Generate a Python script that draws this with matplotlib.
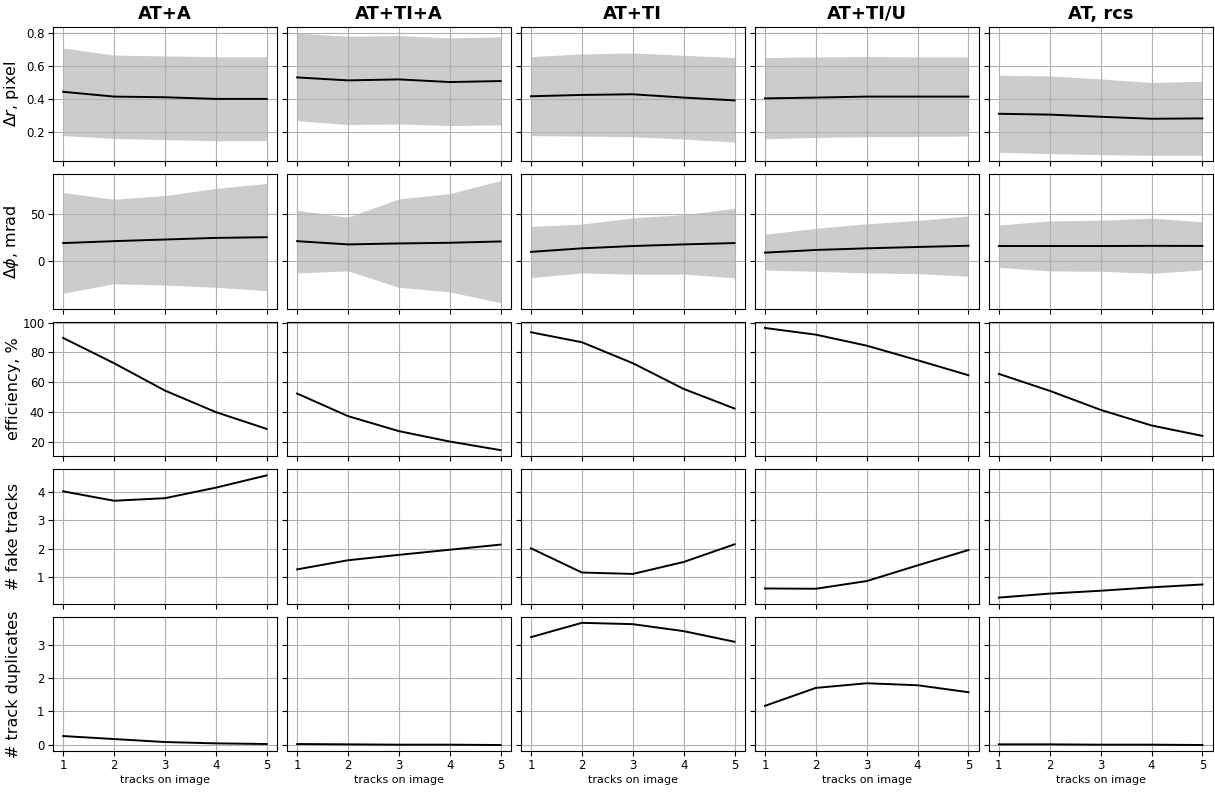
import numpy as np
import matplotlib
matplotlib.use("Agg")
import matplotlib.pyplot as plt

tracks = [1, 2, 3, 4, 5]
methods = ["AT+A", "AT+TI+A", "AT+TI", "AT+TI/U", "AT, rcs"]

# delta r, pixel: mean, upper and lower band edges per method
dr_mean = [
    [0.445, 0.416, 0.412, 0.402, 0.402],
    [0.532, 0.514, 0.520, 0.504, 0.510],
    [0.418, 0.426, 0.430, 0.410, 0.393],
    [0.405, 0.410, 0.416, 0.416, 0.416],
    [0.312, 0.307, 0.294, 0.282, 0.284],
]
dr_hi = [
    [0.710, 0.667, 0.662, 0.657, 0.657],
    [0.800, 0.781, 0.785, 0.771, 0.777],
    [0.658, 0.674, 0.680, 0.666, 0.652],
    [0.652, 0.656, 0.658, 0.656, 0.656],
    [0.545, 0.541, 0.523, 0.501, 0.509],
]
dr_lo = [
    [0.180, 0.163, 0.156, 0.149, 0.150],
    [0.270, 0.247, 0.250, 0.241, 0.245],
    [0.180, 0.177, 0.173, 0.159, 0.141],
    [0.161, 0.169, 0.173, 0.175, 0.177],
    [0.079, 0.071, 0.065, 0.061, 0.061],
]

# delta phi, mrad
dphi_mean = [
    [19.2, 21.2, 22.9, 24.6, 25.3],
    [21.2, 17.8, 18.8, 19.5, 20.9],
    [10.0, 13.7, 16.1, 17.8, 19.2],
    [9.2, 12.0, 13.7, 15.1, 16.4],
    [16.1, 16.1, 16.1, 16.3, 16.2],
]
dphi_hi = [
    [71.9, 65.0, 68.8, 76.3, 81.4],
    [53.4, 46.2, 65.4, 70.8, 84.5],
    [36.6, 39.0, 45.5, 48.9, 55.4],
    [28.4, 34.6, 39.3, 42.8, 47.5],
    [38.0, 42.4, 43.0, 45.2, 41.4],
]
dphi_lo = [
    [-33.2, -23.3, -24.6, -27.0, -30.5],
    [-12.0, -9.9, -27.0, -31.8, -43.1],
    [-16.8, -12.0, -13.3, -13.3, -17.1],
    [-8.9, -10.3, -12.0, -12.7, -15.4],
    [-6.2, -9.9, -10.3, -12.3, -8.9],
]

efficiency = [
    [89.7, 72.7, 54.3, 39.8, 28.5],
    [52.3, 37.1, 27.0, 20.0, 14.2],
    [93.5, 86.8, 72.7, 55.4, 42.2],
    [96.4, 91.9, 84.5, 74.7, 64.6],
    [65.5, 54.1, 41.3, 30.8, 23.8],
]
fake_tracks = [
    [4.02, 3.69, 3.78, 4.15, 4.58],
    [1.28, 1.60, 1.79, 1.97, 2.15],
    [2.02, 1.17, 1.12, 1.54, 2.16],
    [0.61, 0.60, 0.87, 1.42, 1.96],
    [0.29, 0.43, 0.53, 0.65, 0.75],
]
duplicates = [
    [0.26, 0.17, 0.08, 0.04, 0.02],
    [0.02, 0.01, 0.0, 0.0, -0.01],
    [3.24, 3.67, 3.63, 3.42, 3.10],
    [1.17, 1.71, 1.85, 1.79, 1.58],
    [0.01, 0.01, 0.0, 0.0, -0.01],
]

ylabels = [r"$\Delta r$, pixel", r"$\Delta\phi$, mrad", "efficiency, %",
           "# fake tracks", "# track duplicates"]

fig, axes = plt.subplots(5, 5, figsize=(12.15, 7.94), dpi=100,
                         sharex=True, sharey="row")
fig.subplots_adjust(left=0.0436, right=0.998, top=0.966, bottom=0.054,
                    wspace=0.045, hspace=0.097)

for j, name in enumerate(methods):
    ax = axes[0, j]
    ax.fill_between(tracks, dr_lo[j], dr_hi[j], color="0.8", lw=0)
    ax.plot(tracks, dr_mean[j], color="black", lw=1.4)
    ax.set_title(name, fontsize=13, fontweight="bold")

    ax = axes[1, j]
    ax.fill_between(tracks, dphi_lo[j], dphi_hi[j], color="0.8", lw=0)
    ax.plot(tracks, dphi_mean[j], color="black", lw=1.4)

    axes[2, j].plot(tracks, efficiency[j], color="black", lw=1.4)
    axes[3, j].plot(tracks, fake_tracks[j], color="black", lw=1.4)
    axes[4, j].plot(tracks, duplicates[j], color="black", lw=1.4)
    axes[4, j].set_xlabel("tracks on image", fontsize=8, labelpad=2)

for i, lab in enumerate(ylabels):
    axes[i, 0].set_ylabel(lab, fontsize=11.5, labelpad=1)

axes[0, 0].set_yticks([0.2, 0.4, 0.6, 0.8])
axes[1, 0].set_yticks([0, 50])
axes[2, 0].set_yticks([20, 40, 60, 80, 100])
axes[3, 0].set_yticks([1, 2, 3, 4])
axes[4, 0].set_yticks([0, 1, 2, 3])
axes[0, 0].set_xticks(tracks)

for ax in axes.flat:
    ax.grid(True)
    ax.tick_params(labelsize=8.5, pad=2.5)

fig.align_ylabels(axes[:, 0])
fig.savefig("out.png", dpi=100)
